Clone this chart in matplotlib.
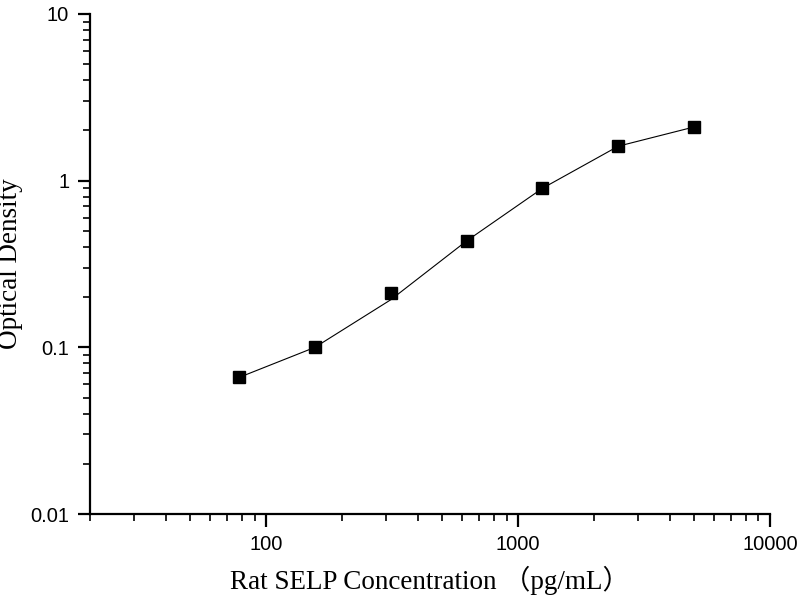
import numpy as np
import matplotlib.pyplot as plt
from matplotlib.ticker import LogLocator, FixedLocator, FixedFormatter, NullFormatter

# Standard points (pg/mL) and measured OD
conc = [78.125, 156.25, 312.5, 625, 1250, 2500, 5000]
od = [0.066, 0.100, 0.212, 0.435, 0.90, 1.61, 2.10]
# fitted curve at the same concentrations
fit_od = [0.066, 0.100, 0.193, 0.435, 0.90, 1.61, 2.10]

x_ticks = [100, 1000, 10000]
x_labels = ['100', '1000', '10000']
y_ticks = [0.01, 0.1, 1, 10]
y_labels = ['0.01', '0.1', '1', '10']

fig = plt.figure(figsize=(8, 6), dpi=100)
ax = fig.add_axes([0.1125, 0.1433, 0.85, 0.8334])

ax.plot(conc, fit_od, color='black', lw=0.8)
ax.plot(conc, od, 's', color='black', markersize=8)

ax.set_xscale('log')
ax.set_yscale('log')
ax.set_xlim(20, 10000)
ax.set_ylim(0.01, 10)

for s in ['top', 'right']:
    ax.spines[s].set_visible(False)
for s in ['left', 'bottom']:
    ax.spines[s].set_linewidth(1.6)

ax.xaxis.set_major_locator(FixedLocator(x_ticks))
ax.xaxis.set_major_formatter(FixedFormatter(x_labels))
ax.yaxis.set_major_locator(FixedLocator(y_ticks))
ax.yaxis.set_major_formatter(FixedFormatter(y_labels))
ax.xaxis.set_minor_locator(LogLocator(base=10, subs=np.arange(2, 10)))
ax.yaxis.set_minor_locator(LogLocator(base=10, subs=np.arange(2, 10)))
ax.xaxis.set_minor_formatter(NullFormatter())
ax.yaxis.set_minor_formatter(NullFormatter())

ax.tick_params(which='major', direction='out', length=9, width=1.6,
               labelsize=14.5, pad=6)
ax.tick_params(which='minor', direction='out', length=5, width=1.2)
for lab in ax.get_xticklabels() + ax.get_yticklabels():
    lab.set_family(['Liberation Sans', 'DejaVu Sans'])

ax.set_xlabel('Rat SELP Concentration （pg/mL）', fontsize=19.5,
              family=['Liberation Serif', 'Noto Sans CJK SC'])
ax.set_ylabel('Optical Density', fontsize=19.5,
              family=['Liberation Serif', 'Noto Sans CJK SC'])
ax.xaxis.set_label_coords(0.5, -0.103)
ax.yaxis.set_label_coords(-0.098, 0.5)

fig.savefig('out.png', dpi=100)
